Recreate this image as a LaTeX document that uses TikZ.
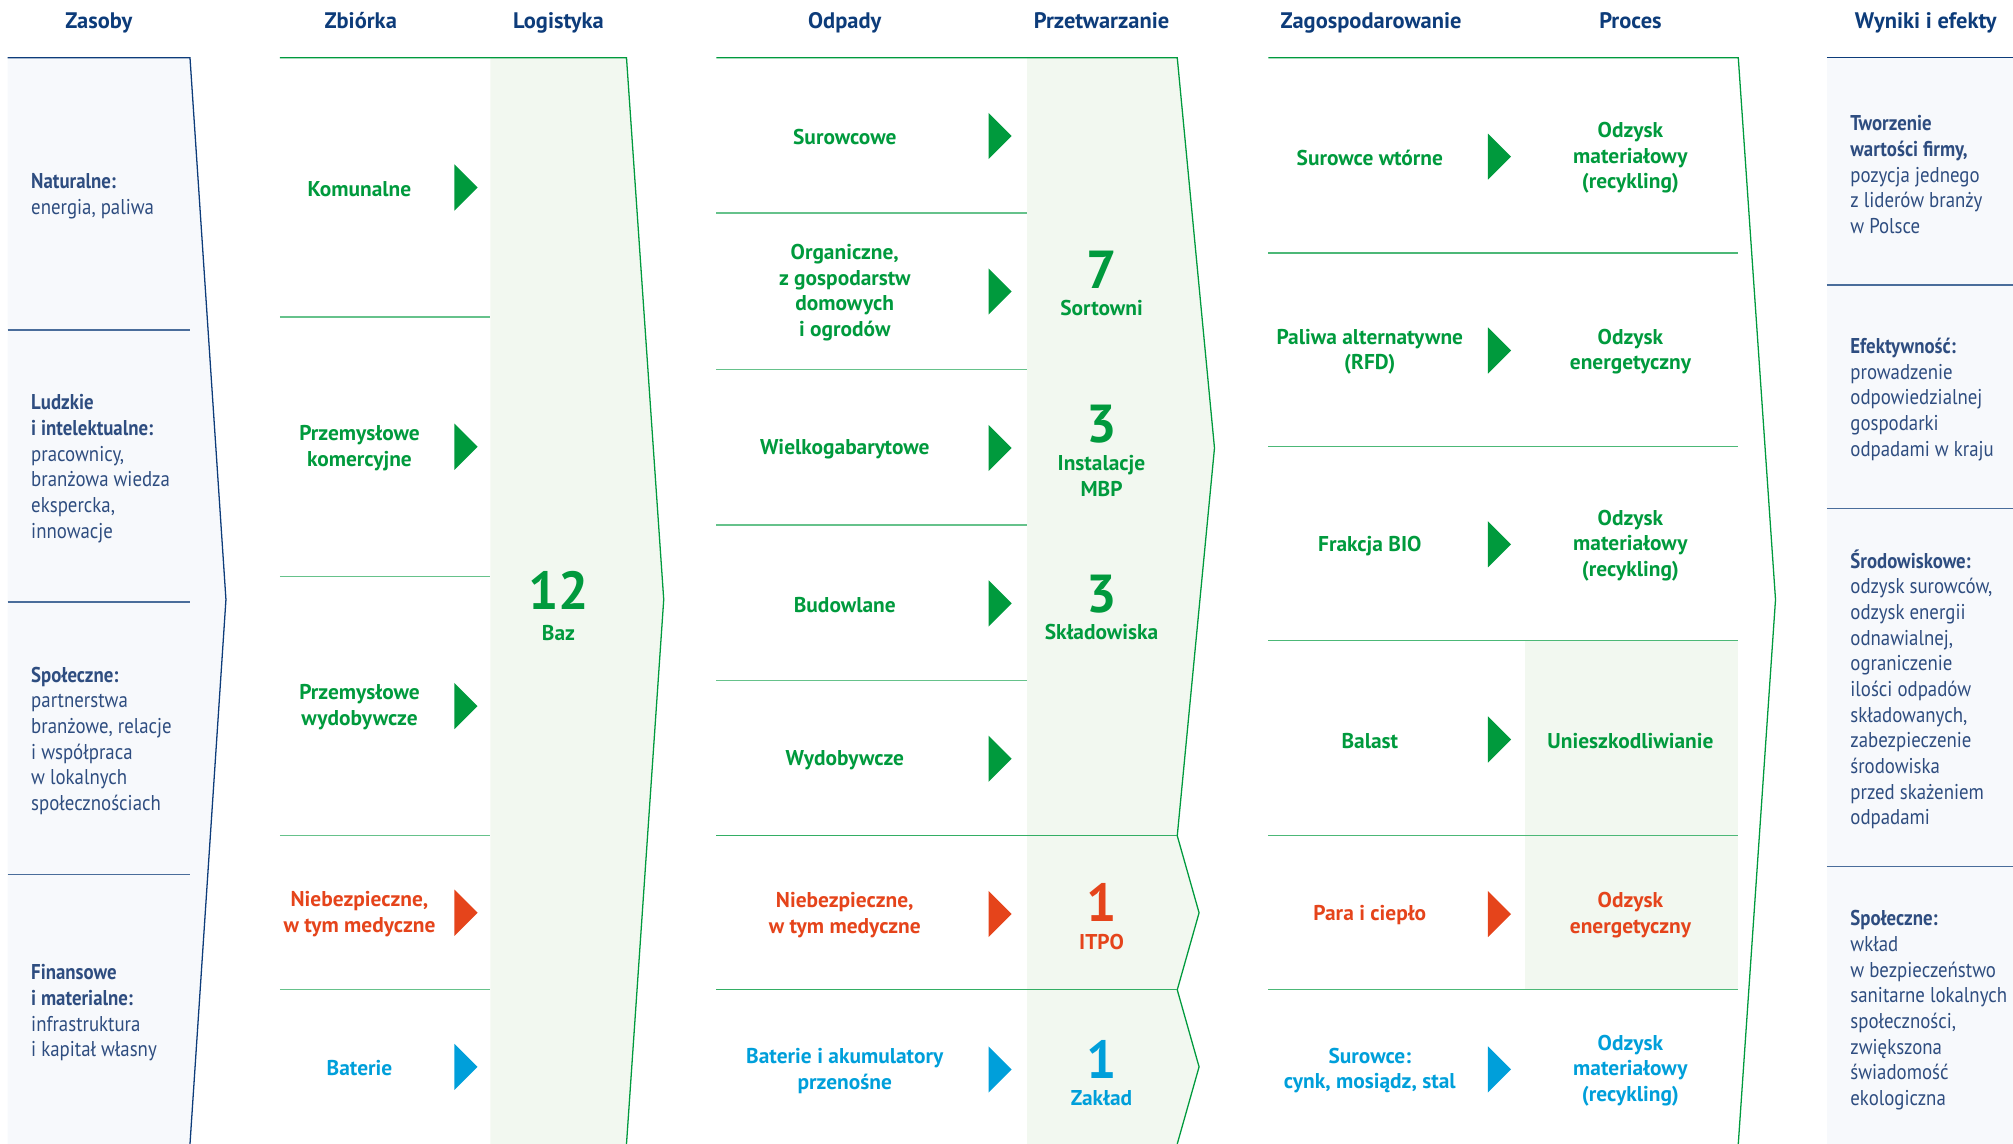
\documentclass[tikz,border=0pt]{standalone}
\usepackage{fontspec}
\setmainfont{PT Sans}
\newfontfamily\narrowfont{PT Sans}[FakeStretch=0.88]
\usetikzlibrary{positioning}

\definecolor{navy}{HTML}{0D3C7A}
\definecolor{ink}{HTML}{2E4D80}
\definecolor{leaf}{HTML}{009A3D}
\definecolor{rust}{HTML}{E5441B}
\definecolor{sky}{HTML}{009FDA}
\definecolor{mint}{HTML}{F2F8F0}
\definecolor{mist}{HTML}{F7F9FC}

\begin{document}
\begin{tikzpicture}
	[	x=0.6pt, y=-0.6pt,
		head/.style={font=\fontsize{10.5}{12}\selectfont\bfseries, text=navy, inner sep=0pt, anchor=base},
		item/.style={font=\fontsize{10}{12}\selectfont\bfseries, text=#1, align=center, inner sep=0pt},
		note/.style={font=\narrowfont\fontsize{10}{12}\selectfont, text=ink, align=left, anchor=west, inner sep=0pt},
		count/.style={font=\fontsize{25}{25}\selectfont\bfseries, text=#1, inner sep=0pt, anchor=base},
		rule/.style={draw=#1, line width=0.6pt}	]
	\useasboundingbox (0,0) rectangle (1568,891);

	\fill[mist] (6,45) -- (148,45) -- (176,467) -- (148,891) -- (6,891) -- cycle;
	\draw[rule=navy] (6,45) -- (148,45) -- (176,467) -- (148,891);
	\foreach \y in {257,469,681}
		\draw[rule=navy!75] (6,\y) -- (148,\y);

	\fill[mint] (382,45) -- (488,45) -- (517,467) -- (488,891) -- (382,891) -- cycle;
	\draw[rule=leaf] (218,45) -- (488,45) -- (517,467) -- (488,891);
	\foreach \y in {247,449,651,771}
		\draw[rule=leaf!60] (218,\y) -- (382,\y);

	\fill[mint] (800,45) -- (917,45) -- (946,349) -- (917,651) -- (934,711) -- (917,771) -- (934,831) -- (917,891) -- (800,891) -- cycle;
	\draw[rule=leaf] (558,45) -- (917,45) -- (946,349) -- (917,651) -- (934,711) -- (917,771) -- (934,831) -- (917,891);
	\foreach \y in {166,288,409,530}
		\draw[rule=leaf!60] (558,\y) -- (800,\y);
	\foreach \y in {651,771}
		\draw[rule=leaf!80] (558,\y) -- (917,\y);

	\fill[mint] (1188,499) rectangle (1354,771);
	\draw[rule=leaf] (988,45) -- (1354,45) -- (1383,467) -- (1354,891);
	\foreach \y in {197,348,499,651,771}
		\draw[rule=leaf!70] (988,\y) -- (1354,\y);

	\fill[mist] (1423,45) rectangle (1568,891);
	\draw[rule=navy] (1423,45) -- (1568,45);
	\foreach \y in {222,396,675}
		\draw[rule=navy!75] (1423,\y) -- (1568,\y);

	\node[head] (h-zasoby) at (77,22) {Zasoby};
	\node[head] (h-zbiorka) at (281,22) {Zbiórka};
	\node[head] (h-logistyka) at (435,22) {Logistyka};
	\node[head] (h-odpady) at (658,22) {Odpady};
	\node[head] (h-przetw) at (858,22) {Przetwarzanie};
	\node[head] (h-zagosp) at (1068,22) {Zagospodarowanie};
	\node[head] (h-proces) at (1270,22) {Proces};
	\node[head] (h-wyniki) at (1500,22) {Wyniki i efekty};

	\node[note] (z-nat) at (24,153) {\textbf{Naturalne:}\\energia, paliwa};
	\node[note] (z-ludz) at (24,365) {\textbf{Ludzkie}\\\textbf{i intelektualne:}\\pracownicy,\\branżowa wiedza\\ekspercka,\\innowacje};
	\node[note] (z-spol) at (24,577) {\textbf{Społeczne:}\\partnerstwa\\branżowe, relacje\\i współpraca\\w lokalnych\\społecznościach};
	\node[note] (z-fin) at (24,789) {\textbf{Finansowe}\\\textbf{i materialne:}\\infrastruktura\\i kapitał własny};

	\node[item=leaf] (zb-kom) at (280,147) {Komunalne};
	\node[item=leaf] (zb-prk) at (280,349) {Przemysłowe\\komercyjne};
	\node[item=leaf] (zb-prw) at (280,551) {Przemysłowe\\wydobywcze};
	\node[item=rust] (zb-nie) at (280,712) {Niebezpieczne,\\w tym medyczne};
	\node[item=sky] (zb-bat) at (280,832) {Baterie};
	\node[count=leaf] (baz) at (435,475) {12};
	\node[item=leaf] (baz-t) at (435,493) {Baz};

	\node[item=leaf] (o-sur) at (658,107) {Surowcowe};
	\node[item=leaf] (o-org) at (658,228) {Organiczne,\\z gospodarstw\\domowych\\i ogrodów};
	\node[item=leaf] (o-wie) at (658,350) {Wielkogabarytowe};
	\node[item=leaf] (o-bud) at (658,471) {Budowlane};
	\node[item=leaf] (o-wyd) at (658,592) {Wydobywcze};
	\node[item=rust] (o-nie) at (658,713) {Niebezpieczne,\\w tym medyczne};
	\node[item=sky] (o-bat) at (658,834) {Baterie i akumulatory\\przenośne};

	\node[count=leaf] (p-sort) at (858,225) {7};
	\node[item=leaf] (p-sort-t) at (858,240) {Sortowni};
	\node[count=leaf] (p-mbp) at (858,345) {3};
	\node[item=leaf] (p-mbp-t) at (858,371) {Instalacje\\MBP};
	\node[count=leaf] (p-skl) at (858,477) {3};
	\node[item=leaf] (p-skl-t) at (858,492) {Składowiska};
	\node[count=rust] (p-itpo) at (858,718) {1};
	\node[item=rust] (p-itpo-t) at (858,734) {ITPO};
	\node[count=sky] (p-zakl) at (858,840) {1};
	\node[item=sky] (p-zakl-t) at (858,855) {Zakład};

	\node[item=leaf] (g-sur) at (1067,123) {Surowce wtórne};
	\node[item=leaf] (g-pal) at (1067,274) {Paliwa alternatywne\\(RFD)};
	\node[item=leaf] (g-bio) at (1067,425) {Frakcja BIO};
	\node[item=leaf] (g-bal) at (1067,577) {Balast};
	\node[item=rust] (g-para) at (1067,713) {Para i ciepło};
	\node[item=sky] (g-cynk) at (1067,834) {Surowce:\\cynk, mosiądz, stal};

	\node[item=leaf] (r-mat1) at (1270,123) {Odzysk\\materiałowy\\(recykling)};
	\node[item=leaf] (r-en1) at (1270,274) {Odzysk\\energetyczny};
	\node[item=leaf] (r-mat2) at (1270,425) {Odzysk\\materiałowy\\(recykling)};
	\node[item=leaf] (r-unie) at (1270,577) {Unieszkodliwianie};
	\node[item=rust] (r-en2) at (1270,713) {Odzysk\\energetyczny};
	\node[item=sky] (r-mat3) at (1270,834) {Odzysk\\materiałowy\\(recykling)};

	\foreach \x/\y/\c in {354/146/leaf, 354/348/leaf, 354/550/leaf, 354/711/rust, 354/831/sky,
		770/106/leaf, 770/227/leaf, 770/349/leaf, 770/470/leaf, 770/591/leaf, 770/712/rust, 770/833/sky,
		1159/122/leaf, 1159/273/leaf, 1159/424/leaf, 1159/576/leaf, 1159/712/rust, 1159/833/sky}
		\fill[\c] (\x,\y-18) -- (\x+18,\y) -- (\x,\y+18) -- cycle;

	\node[note] (w-firma) at (1441,136) {\textbf{Tworzenie}\\\textbf{wartości firmy,}\\pozycja jednego\\z liderów branży\\w Polsce};
	\node[note] (w-efekt) at (1441,311) {\textbf{Efektywność:}\\prowadzenie\\odpowiedzialnej\\gospodarki\\odpadami w kraju};
	\node[note] (w-srod) at (1441,537) {\textbf{Środowiskowe:}\\odzysk surowców,\\odzysk energii\\odnawialnej,\\ograniczenie\\ilości odpadów\\składowanych,\\zabezpieczenie\\środowiska\\przed skażeniem\\odpadami};
	\node[note] (w-spol) at (1441,787) {\textbf{Społeczne:}\\wkład\\w bezpieczeństwo\\sanitarne lokalnych\\społeczności,\\zwiększona\\świadomość\\ekologiczna};
\end{tikzpicture}
\end{document}
